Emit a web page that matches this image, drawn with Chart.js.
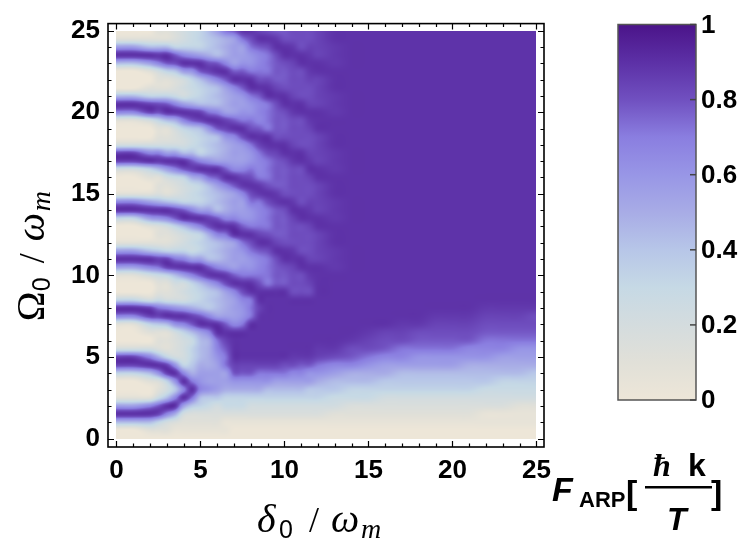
<!DOCTYPE html>
<html>
<head>
<meta charset="utf-8">
<script src="https://cdn.jsdelivr.net/npm/chart.js@4.4.1/dist/chart.umd.min.js"></script>
<style>
  html, body { margin: 0; padding: 0; background: #fff; }
</style>
</head>
<body>
<canvas id="c" width="745" height="545"></canvas>
<script>
// ─── Data ────────────────────────────────────────────────────────────────────
// δ0/ωm grid (columns, finer where the fringes bend) and Ω0/ωm grid (rows)
const deltaVals = [0, 1, 2, 2.5, 3, 3.5, 4, 4.5, 5, 5.5, 6, 6.5, 7, 7.5, 8, 8.5, 9, 9.5, 10, 10.5, 11, 11.5,
  12, 13, 14, 15, 16, 17, 18, 19, 20, 21, 22, 23, 24, 25];
const omegaVals = [0, 0.5, 1, 1.5, 2, 2.5, 3, 3.5, 4, 4.5, 5, 5.5, 6, 6.5, 7, 7.5, 8, 8.5, 9, 9.5,
  10, 10.5, 11, 11.5, 12, 12.5, 13, 13.5, 14, 14.5, 15, 15.5, 16, 16.5, 17, 17.5, 18, 18.5, 19, 19.5,
  20, 20.5, 21, 21.5, 22, 22.5, 23, 23.5, 24, 24.5, 25];

// F_ARP level codes -> value
const levelValues = {
  '0': 0, 'e': 0.05, '1': 0.11, 'f': 0.16, '2': 0.22, 'g': 0.28, '3': 0.33, 'h': 0.39,
  '4': 0.44, 'i': 0.5, '5': 0.56, 'j': 0.61, '6': 0.67, 'a': 0.72, '7': 0.78, 'b': 0.81,
  'c': 0.84, 'd': 0.87, '8': 0.89, '9': 1
};

// F_ARP, one string per δ column, Ω from 0 upwards in steps of 0.5
const fCols = [
  '004851003c c200168300 1585100386 1002cc2001 6840004851 0', // δ=0
  '004851003c c200168300 1585100386 1002cc2001 6840004851 0', // δ=1
  '0148610148 62013cc200 2684101585 1013862002 cc31015841 0', // δ=2
  '013c7g1fj8 if11hcag11 gach11fj8i f114d62113 bb31126d41 1', // δ=2.5
  '01268423cc 3111486211 3cc3112684 1125852114 8731137841 1', // δ=3
  '0efi86hj8j 2ff2j8j2f2 4da3ff37ch ffg6852f2i 86gffhb73f f', // δ=3.5
  '0e12586863 2223685222 5863224873 2237842236 8522258632 2', // δ=4
  '0e1fha8aih 33g47cigg3 685ggg5863 ggic74ggh7 digg3j8j3g g', // δ=4.5
  '0e1f346j5i 4445874334 7853336853 335863334c c433478533 3', // δ=5
  '0e1fghj55i iii686hhh5 d74hhibc5h h4a8jhhhj8 a4hh5cbihh 4', // δ=5.5
  '0e1f2h5555 j6a8854446 8644468744 4578544478 6444687444 5', // δ=6
  '0eefg3i55a a7c875ii5b djiiia86ii i6875iijcc 5ii5786iii a', // δ=6.5
  '00efg3ij7c 8888655568 7555588655 5786555687 5556875555 7', // δ=7
  '00efg3ij7c 8888ajj6b8 aj5ja87j55 6dc655jb8a j5j787j55a 8', // δ=7.5
  '00ef23ij7c 88888aaa88 ajjab8ajja b8bajja8ba jja88ajjab 8', // δ=8
  '00ef23ijac 88888dc88b a6678ca66a dda66ac876 6678ba6678 c', // δ=8.5
  '00ef234jac 888888888a aaab8baaab 8baaab88aa aa88baaab8 b', // δ=9
  '00ef2345ac 8888888887 77b8c7777d d7777c8b77 7b8c777b8d 7', // δ=9.5
  '00ef2345ab 8888888887 7b88b777b8 b777b88b77 b88b77b88b 7', // δ=10
  '00ef23456b d8888888bb bc8dbbbc8d bbbbd8cbbb d8cbbbc8db b', // δ=10.5
  '00ef234567 d8888888bb b88bbbb88b bbbb88bbbb 88bbbb88bb b', // δ=11
  '00ef23h5j7 d8888888bc d8cbbbc8dc bbc8dcbbcd 8cbbcd8dcb b', // δ=11.5
  '00ef23hija cd88888888 88cccc88cc cc88cccc88 8cccc88ccc c', // δ=12
  '00e12gh456 bd88888888 8ddd888ddd 888ddd8888 ddd888ddd8 8', // δ=13
  '00e1fg34i6 7bd8888888 8888888888 8888888888 8888888888 8', // δ=14
  '00e1fg34ij abcd888888 8888888888 8888888888 8888888888 8', // δ=15
  '00e1f23hi5 67bc888888 8888888888 8888888888 8888888888 8', // δ=16
  '00e1f23h45 6abcd88888 8888888888 8888888888 8888888888 8', // δ=17
  '00e1f23h45 ja7bd88888 8888888888 8888888888 8888888888 8', // δ=18
  '00e1f23h45 ja7bcd8888 8888888888 8888888888 8888888888 8', // δ=19
  '00e1f23h45 ja7bcd8888 8888888888 8888888888 8888888888 8', // δ=20
  '00e1f23h4i j67bcd8888 8888888888 8888888888 8888888888 8', // δ=21
  '00eef2gh4i j6a7bcd888 8888888888 8888888888 8888888888 8', // δ=22
  '00eef2g34i 56a7bcd888 8888888888 8888888888 8888888888 8', // δ=23
  '00ee12g34i 5ja7bcd888 8888888888 8888888888 8888888888 8', // δ=24
  '00ee12g3hi 5ja7bbd888 8888888888 8888888888 8888888888 8', // δ=25
];

const xTicks = [0, 5, 10, 15, 20, 25];
const yTicks = [0, 5, 10, 15, 20, 25];
const minorTicks = [0, 1, 2, 3, 4, 5, 6, 7, 8, 9, 10, 11, 12, 13, 14, 15, 16, 17, 18, 19, 20, 21, 22, 23, 24, 25];
const cbTicks = [0, 0.2, 0.4, 0.6, 0.8, 1];
const cbLabels = ['0', '0.2', '0.4', '0.6', '0.8', '1'];

// colour map (cream -> light blue -> lavender -> deep purple)
const cmapStops = [0, 0.1, 0.2, 0.3, 0.4, 0.5, 0.6, 0.7, 0.8, 0.9, 1];
const cmapColors = ['#ede6d8', '#e1e0d8', '#d4dcde', '#c6d9e5', '#b7c6e8', '#a8ace6',
  '#9896e6', '#8a7ee0', '#7050c0', '#5c30a6', '#4b1489'];

// ─── Utilities ───────────────────────────────────────────────────────────────
const hexRgb = h => [1, 3, 5].map(i => parseInt(h.slice(i, i + 2), 16));
const cmapRgb = cmapColors.map(hexRgb);

function colorAt(v) {
  v = Math.max(0, Math.min(1, v));
  let i = 0;
  while (i < cmapStops.length - 2 && v > cmapStops[i + 1]) i++;
  const t = (v - cmapStops[i]) / (cmapStops[i + 1] - cmapStops[i]);
  const a = cmapRgb[i], b = cmapRgb[i + 1];
  return [a[0] + (b[0] - a[0]) * t, a[1] + (b[1] - a[1]) * t, a[2] + (b[2] - a[2]) * t];
}

const grid = fCols.map(s => s.replace(/ /g, '').split('').map(c => levelValues[c]));

// fractional position of v inside a sorted axis array
function fracIndex(arr, v) {
  if (v <= arr[0]) return 0;
  for (let i = 0; i < arr.length - 1; i++) {
    if (v <= arr[i + 1]) return i + (v - arr[i]) / (arr[i + 1] - arr[i]);
  }
  return arr.length - 1;
}

function cubicW(t) {
  const t2 = t * t, t3 = t2 * t;
  return [(-t3 + 2 * t2 - t) / 2, (3 * t3 - 5 * t2 + 2) / 2, (-3 * t3 + 4 * t2 + t) / 2, (t3 - t2) / 2];
}

function sampleGrid(fi, fk) {
  const nx = deltaVals.length, ny = omegaVals.length;
  const i0 = Math.floor(fi), k0 = Math.floor(fk);
  const wx = cubicW(fi - i0), wy = cubicW(fk - k0);
  let v = 0;
  for (let a = 0; a < 4; a++) {
    const ii = Math.max(0, Math.min(nx - 1, i0 - 1 + a));
    for (let b = 0; b < 4; b++) {
      const kk = Math.max(0, Math.min(ny - 1, k0 - 1 + b));
      v += wx[a] * wy[b] * grid[ii][kk];
    }
  }
  return v;
}

function drawRich(ctx, parts, cx, baseY) {
  ctx.textAlign = 'left'; ctx.textBaseline = 'alphabetic';
  for (const p of parts) {
    ctx.font = p.font;
    ctx.fillText(p.t, cx + p.x, baseY + (p.dy || 0));
  }
}

// ─── Density plot plugin ─────────────────────────────────────────────────────
const densityPlugin = {
  id: 'density',
  beforeDatasetsDraw(chart) {
    const { ctx, scales: { x, y } } = chart;
    const left = Math.round(x.getPixelForValue(deltaVals[0]));
    const right = Math.round(x.getPixelForValue(deltaVals[deltaVals.length - 1]));
    const top = Math.round(y.getPixelForValue(omegaVals[omegaVals.length - 1]));
    const bottom = Math.round(y.getPixelForValue(omegaVals[0]));
    const w = right - left, h = bottom - top;
    const off = document.createElement('canvas');
    off.width = w; off.height = h;
    const octx = off.getContext('2d');
    const img = octx.createImageData(w, h);
    const fis = [], fks = [];
    for (let px = 0; px < w; px++) fis.push(fracIndex(deltaVals, x.getValueForPixel(left + px + 0.5)));
    for (let py = 0; py < h; py++) fks.push(fracIndex(omegaVals, y.getValueForPixel(top + py + 0.5)));
    for (let py = 0; py < h; py++) {
      for (let px = 0; px < w; px++) {
        const c = colorAt(sampleGrid(fis[px], fks[py]));
        const p = (py * w + px) * 4;
        img.data[p] = c[0]; img.data[p + 1] = c[1]; img.data[p + 2] = c[2]; img.data[p + 3] = 255;
      }
    }
    octx.putImageData(img, 0, 0);
    ctx.drawImage(off, left, top);
  },
  afterDatasetsDraw(chart) {
    const { ctx, chartArea: a, scales: { x, y } } = chart;
    ctx.save();
    ctx.strokeStyle = '#000';
    ctx.lineWidth = 1.2;
    ctx.beginPath();
    for (const v of minorTicks) {
      const len = xTicks.includes(v) ? 6 : 3.5;
      const px = Math.round(x.getPixelForValue(v)) + 0.5;
      ctx.moveTo(px, a.bottom); ctx.lineTo(px, a.bottom - len);
      ctx.moveTo(px, a.top); ctx.lineTo(px, a.top + len);
      const leny = yTicks.includes(v) ? 6 : 3.5;
      const py = Math.round(y.getPixelForValue(v)) + 0.5;
      ctx.moveTo(a.left, py); ctx.lineTo(a.left + leny, py);
      ctx.moveTo(a.right, py); ctx.lineTo(a.right - leny, py);
    }
    ctx.stroke();
    ctx.lineWidth = 1.6;
    ctx.strokeRect(a.left, a.top, a.right - a.left, a.bottom - a.top);
    ctx.restore();
  },
  afterDraw(chart) {
    const { ctx, chartArea: a } = chart;
    ctx.save();
    ctx.fillStyle = '#000';

    // x title: δ0 / ωm
    const cx = (a.left + a.right) / 2;
    drawRich(ctx, [
      { t: 'δ', font: 'italic 40px "Liberation Serif"', x: -69 },
      { t: '0', font: '25px "Liberation Sans"', x: -47, dy: 6 },
      { t: '/', font: '36px "Liberation Serif"', x: -17 },
      { t: 'ω', font: 'italic 40px "Liberation Serif"', x: 5 },
      { t: 'm', font: 'italic 28px "Liberation Serif"', x: 35, dy: 6 },
    ], cx, 532);

    // y title: Ω0 / ωm (rotated)
    ctx.save();
    ctx.translate(44, (a.top + a.bottom) / 2 + 12);
    ctx.rotate(-Math.PI / 2);
    drawRich(ctx, [
      { t: 'Ω', font: '40px "Liberation Serif"', x: -74 },
      { t: '0', font: '25px "Liberation Sans"', x: -44, dy: 6 },
      { t: '/', font: '36px "Liberation Serif"', x: -16 },
      { t: 'ω', font: 'italic 40px "Liberation Serif"', x: 6 },
      { t: 'm', font: 'italic 28px "Liberation Serif"', x: 36, dy: 6 },
    ], 0, 0);
    ctx.restore();

    // colour bar
    const cbL = 618, cbR = 696, cbT = 24.5, cbB = 400;
    const g = ctx.createLinearGradient(0, cbB, 0, cbT);
    cmapStops.forEach((s, i) => g.addColorStop(s, cmapColors[i]));
    ctx.fillStyle = g;
    ctx.fillRect(cbL, cbT, cbR - cbL, cbB - cbT);
    ctx.strokeStyle = '#555';
    ctx.lineWidth = 1.5;
    ctx.strokeRect(cbL, cbT, cbR - cbL, cbB - cbT);
    ctx.strokeStyle = '#444';
    ctx.fillStyle = '#000';
    ctx.font = 'bold 26px "Liberation Sans"';
    ctx.textAlign = 'left'; ctx.textBaseline = 'middle';
    cbTicks.forEach((v, i) => {
      const py = cbB - v * (cbB - cbT);
      ctx.beginPath(); ctx.moveTo(cbR - 6, py); ctx.lineTo(cbR, py); ctx.stroke();
      ctx.fillText(cbLabels[i], cbR + 5, py + 1);
    });

    // colour bar title: F_ARP [ħ k / T]
    ctx.textBaseline = 'alphabetic';
    ctx.font = 'bold italic 34px "Liberation Sans"'; ctx.fillText('F', 552, 501);
    ctx.font = 'bold 22px "Liberation Sans"'; ctx.fillText('ARP', 579, 507);
    ctx.font = 'bold 34px "Liberation Sans"'; ctx.fillText('[', 626, 504);
    ctx.font = 'bold italic 32px "Liberation Serif"'; ctx.fillText('ħ', 653, 476);
    ctx.font = 'bold 32px "Liberation Sans"'; ctx.fillText('k', 688, 476);
    ctx.fillRect(645, 486, 67, 2.5);
    ctx.font = 'bold italic 32px "Liberation Sans"'; ctx.fillText('T', 667, 530);
    ctx.font = 'bold 34px "Liberation Sans"'; ctx.fillText(']', 711, 504);
    ctx.restore();
  }
};

// ─── Chart ───────────────────────────────────────────────────────────────────
const tickFont = { family: '"Liberation Sans", Arial, sans-serif', size: 26, weight: 'bold' };

new Chart(document.getElementById('c'), {
  type: 'scatter',
  data: { datasets: [{ data: [], pointRadius: 0 }] },
  options: {
    responsive: false,
    animation: false,
    layout: { padding: { left: 0, right: 201, top: 13, bottom: 0 } },
    plugins: { legend: { display: false }, tooltip: { enabled: false } },
    scales: {
      x: {
        type: 'linear', min: -0.5, max: 25.45,
        afterBuildTicks: s => { s.ticks = xTicks.map(v => ({ value: v })); },
        afterFit: s => { s.height = 98; },
        grid: { display: false, drawTicks: false },
        border: { display: false },
        ticks: { font: tickFont, color: '#000', padding: 8, maxRotation: 0, autoSkip: false }
      },
      y: {
        type: 'linear', min: -0.52, max: 25.43,
        afterBuildTicks: s => { s.ticks = yTicks.map(v => ({ value: v })); },
        afterFit: s => { s.width = 108; },
        grid: { display: false, drawTicks: false },
        border: { display: false },
        ticks: { font: tickFont, color: '#000', padding: 8, autoSkip: false }
      }
    }
  },
  plugins: [densityPlugin]
});
</script>
</body>
</html>
